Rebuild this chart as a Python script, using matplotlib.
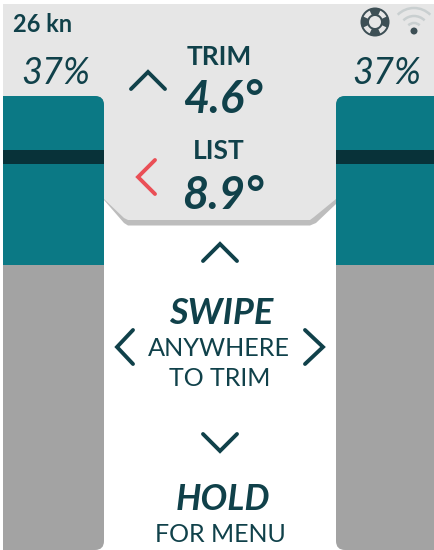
import matplotlib
matplotlib.use("Agg")
import matplotlib.pyplot as plt
from matplotlib.patches import Polygon, PathPatch, Circle, Wedge, Arc
from matplotlib.path import Path

speed_label = "26 kn"
tank_labels = ["37%", "37%"]
trim_title, trim_value = "TRIM", "4.6°"
list_title, list_value = "LIST", "8.9°"
swipe_lines = ["SWIPE", "ANYWHERE", "TO TRIM"]
hold_lines = ["HOLD", "FOR MENU"]

DARK = "#10414a"
TEAL = "#0b7985"
BAND = "#083239"
GREY = "#a3a3a3"
PANEL = "#e6e6e6"
SHADOW = "#bdbdbd"
RED = "#ea4f56"

plt.rcParams['font.family'] = ['Lato', 'DejaVu Sans']
fig = plt.figure(figsize=(4.34, 5.50), dpi=100, facecolor="white")
ax = fig.add_axes([0, 0, 1, 1])
ax.set_xlim(0, 434)
ax.set_ylim(550, 0)
ax.axis("off")

# panel with shadow
ax.add_patch(Polygon([(104, 200), (124, 223), (128, 225.5), (310, 225.5), (316, 223), (336, 204), (336, 190), (104, 190)],
                     closed=True, fc=SHADOW, ec="none", zorder=1))
ax.add_patch(Polygon([(3, 4), (434, 4), (434, 110), (336, 110), (336, 199), (314, 217), (310, 220), (128, 220), (124, 218), (104, 199), (3, 199)],
                     closed=True, fc=PANEL, ec="none", zorder=2))

def tank(x0, x1, rounded_side):
    r = 9
    y0, y1 = 96, 550
    if rounded_side == "right":
        verts = [(x0, y0), (x1 - r, y0), (x1, y0), (x1, y0 + r), (x1, y1 - r), (x1, y1), (x1 - r, y1), (x0, y1), (x0, y0)]
    else:
        verts = [(x1, y0), (x0 + r, y0), (x0, y0), (x0, y0 + r), (x0, y1 - r), (x0, y1), (x0 + r, y1), (x1, y1), (x1, y0)]
    codes = [Path.MOVETO, Path.LINETO, Path.CURVE3, Path.CURVE3, Path.LINETO, Path.CURVE3, Path.CURVE3, Path.LINETO, Path.CLOSEPOLY]
    clip = PathPatch(Path(verts, codes), fc=GREY, ec="none", zorder=3)
    ax.add_patch(clip)
    fill = ax.bar((x0 + x1) / 2, 265 - y0, width=x1 - x0, bottom=y0, color=TEAL, zorder=4)[0]
    fill.set_clip_path(clip)
    band = ax.bar((x0 + x1) / 2, 14, width=x1 - x0, bottom=150, color=BAND, zorder=5)[0]
    band.set_clip_path(clip)

tank(3, 104, "right")
tank(336, 434, "left")

def chevron(pts, color=DARK, lw=2.8):
    xs, ys = zip(*pts)
    ax.plot(xs, ys, color=color, lw=lw, solid_capstyle="round", solid_joinstyle="miter", zorder=6)

chevron([(131, 89), (148, 72), (165, 89)])
chevron([(155, 160), (138, 177), (155, 194)], color=RED)
chevron([(203, 261), (220, 244), (237, 261)])
chevron([(133, 330), (117, 347), (133, 364)])
chevron([(305, 330), (323, 347), (305, 364)])
chevron([(203, 434), (220, 451), (237, 434)])

def T(x, y, s, size, weight="normal", style="normal", ha="center"):
    ax.text(x, y, s, fontsize=size, fontweight=weight, fontstyle=style, color=DARK,
            ha=ha, va="center", zorder=7)

T(13, 25, speed_label, 17, "bold", ha="left")
T(56, 74, tank_labels[0], 26, "normal", "italic")
T(387, 74, tank_labels[1], 26, "normal", "italic")
T(219, 57, trim_title, 19, "bold")
T(223, 100, trim_value, 32.5, "bold", "italic")
T(219, 151, list_title, 19, "bold")
T(223, 196, list_value, 32.5, "bold", "italic")
T(221, 314, swipe_lines[0], 26, "bold", "italic")
T(219, 349, swipe_lines[1], 18.2)
T(220, 379, swipe_lines[2], 18)
T(223, 500, hold_lines[0], 25.6, "bold", "italic")
T(220, 534, hold_lines[1], 18)

# lifebuoy icon
ax.add_patch(Circle((375, 22), 14.5, fc="#3d4f55", ec="none", zorder=6))
ax.add_patch(Circle((375, 22), 6, fc=PANEL, ec="none", zorder=7))
for a in (45, 135, 225, 315):
    ax.add_patch(Wedge((375, 22), 12.5, a - 20, a + 20, width=4.5, fc=PANEL, ec="none", zorder=8))

# wifi icon
for d in (16, 30, 46):
    ax.add_patch(Arc((414, 31), d, d, theta1=225, theta2=315, color="#c9cfd0", lw=1.8, zorder=6))
ax.add_patch(Circle((414, 31), 3.5, fc="#3d4f55", ec="none", zorder=7))

fig.savefig("out.png", dpi=100, facecolor="white")
